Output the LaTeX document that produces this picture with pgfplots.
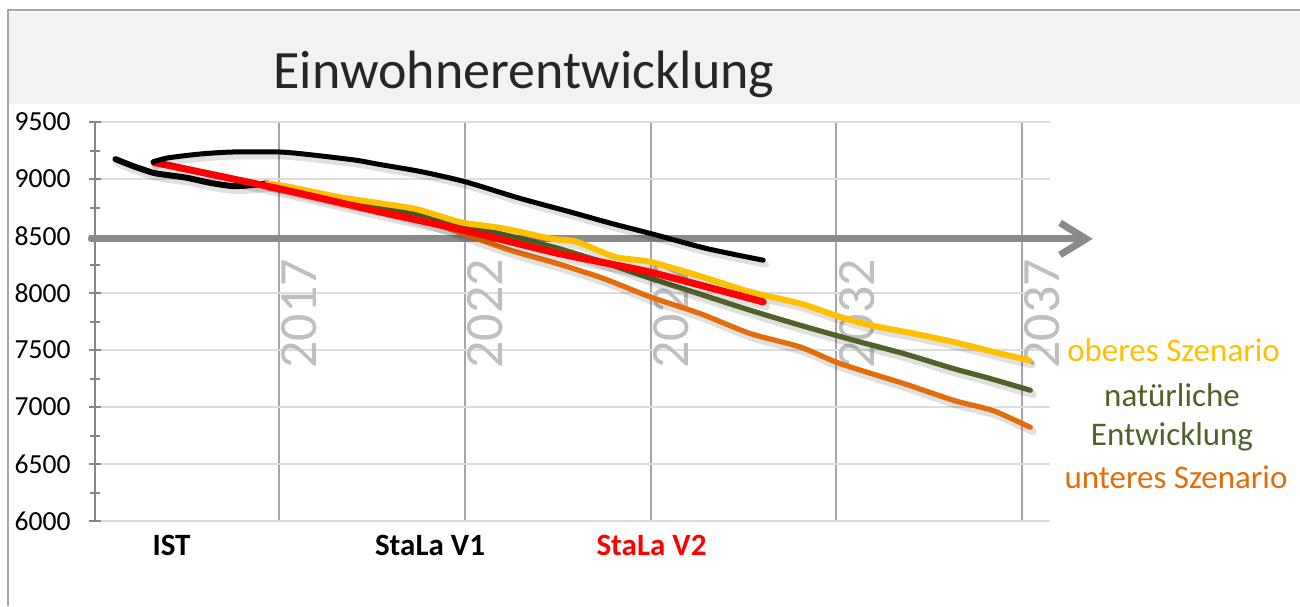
\documentclass[border=0pt]{standalone}
\usepackage{fontspec}
\setmainfont{Carlito}
\usepackage{pgfplots}
\pgfplotsset{compat=1.18}
\usetikzlibrary{arrows.meta}
\definecolor{cyel}{HTML}{FFC000}
\definecolor{cgrn}{HTML}{4F6228}
\definecolor{corg}{HTML}{E46C0A}
\definecolor{cred}{HTML}{FF0000}
\definecolor{cband}{HTML}{F2F2F2}
\definecolor{caxis}{HTML}{868686}
\definecolor{cgridh}{HTML}{DDDDDD}
\definecolor{cgridv}{HTML}{A6A6A6}
\definecolor{cyear}{HTML}{BFBFBF}
\definecolor{carrow}{HTML}{8A8A8A}
\tikzset{shadowed/.style={preaction={draw=black, draw opacity=0.12, line width=#1, transform canvas={xshift=1.2pt,yshift=-2pt}}},
  yearlab/.style={rotate=90, anchor=north west, inner sep=0pt, text=cyear, font=\fontsize{27}{32}\selectfont}}
\begin{document}
\begin{tikzpicture}
\path[use as bounding box, fill=white] (0,0) rectangle (650pt,-303pt);
\fill[cband] (4.5pt,-6pt) rectangle (650pt,-52pt);
\draw[cgridv, line width=1pt] (4pt,-303pt) -- (4pt,-5pt) -- (650pt,-5pt);
\node[font=\fontsize{27}{32}\selectfont, anchor=base, text=black!85] at (262pt,-44pt) {Einwohnerentwicklung};
\begin{axis}[
  at={(47.5pt,-260.5pt)}, anchor=south west,
  scale only axis, width=477.5pt, height=199.5pt,
  xmin=2012.05, xmax=2037.75, ymin=6000, ymax=9500,
  clip=false,
  axis y line*=left, axis x line*=bottom,
  x axis line style={draw=none},
  y axis line style={draw=caxis, line width=1pt},
  xtick={2017,2022,2027,2032,2037}, xticklabels={},
  x tick style={draw=none},
  ytick={6000,6500,...,9500}, minor y tick num=1,
  tick align=center, major tick length=6pt, minor tick length=5pt,
  y tick style={draw=caxis, line width=1pt},
  xmajorgrids, ymajorgrids,
  major x grid style={draw=cgridv, line width=1pt},
  major y grid style={draw=cgridh, line width=1pt},
  yticklabel style={font=\fontsize{13.8}{16}\selectfont, anchor=east, inner sep=0pt, xshift=-9pt},
  /pgf/number format/assume math mode=true,
  /pgf/number format/1000 sep={},
  every axis plot/.append style={line cap=round, line join=round},
]
% year labels (under the lines)
\node[yearlab] at (axis cs:2017.06,7335) {2017};
\node[yearlab] at (axis cs:2022.06,7335) {2022};
\node[yearlab] at (axis cs:2027.06,7335) {2027};
\node[yearlab] at (axis cs:2032.06,7335) {2032};
\node[yearlab] at (axis cs:2037.06,7335) {2037};
% arrow
\addplot[carrow, line width=3.5pt, sharp plot, -{Straight Barb[length=13pt,width=16pt]}] coordinates {(2011.95,8475) (2038.9,8475)};
% IST
\addplot[black, line width=3pt, smooth, tension=0.45, shadowed=4pt] coordinates {
(2012.6,9175) (2013.07,9114) (2013.61,9055) (2013.99,9035) (2014.52,9011) (2015.14,8967) (2015.76,8938) (2016.3,8947) (2016.68,8962)
};
% unteres Szenario
\addplot[corg, line width=2.6pt, smooth, tension=0.45, shadowed=4pt] coordinates {
(2016.68,8962) (2017.16,8921) (2018.37,8833) (2019.72,8736) (2020.8,8648) (2021.68,8552) (2023.22,8376) (2024.48,8259) (2025.73,8128) (2026.99,7966) (2028.33,7820) (2029.68,7645) (2031.02,7527) (2032.1,7381) (2033.81,7206) (2035.15,7059) (2035.87,7000) (2036.32,6956) (2037.22,6822)
};
% natuerliche Entwicklung
\addplot[cgrn, line width=2.6pt, smooth, tension=0.45, shadowed=4pt] coordinates {
(2016.68,8962) (2017.16,8934) (2018.37,8850) (2019.45,8771) (2020.53,8710) (2021.25,8648) (2022.14,8581) (2023.22,8499) (2024.48,8394) (2025.64,8280) (2026.99,8130) (2028.33,7990) (2029.68,7849) (2031.02,7718) (2032.46,7586) (2033.81,7469) (2035.15,7337) (2036.05,7258) (2037.22,7147)
};
% oberes Szenario
\addplot[cyel, line width=3pt, smooth, tension=0.45, shadowed=4pt] coordinates {
(2016.68,8962) (2017.16,8938) (2018.58,8844) (2019.45,8800) (2020.61,8742) (2021.25,8683) (2021.96,8616) (2023.04,8567) (2024.29,8479) (2025.01,8449) (2026.04,8317) (2026.99,8273) (2028.33,8148) (2029.68,8010) (2031.02,7908) (2032.1,7791) (2032.91,7718) (2034.07,7645) (2035.15,7571) (2036.23,7483) (2037.19,7410)
};
% StaLa V2
\addplot[cred, line width=3.5pt, smooth, tension=0.3, shadowed=4.5pt] coordinates {
(2013.64,9146) (2017,8915) (2019.72,8712) (2021.95,8552) (2024.48,8350) (2026.99,8183) (2030.03,7922)
};
% StaLa V1
\addplot[black, line width=2.5pt, smooth, tension=0.45, shadowed=3.5pt] coordinates {
(2013.61,9149) (2013.99,9184) (2014.87,9219) (2015.76,9237) (2017.03,9237) (2017.92,9210) (2019.05,9166) (2019.72,9127) (2020.82,9065) (2022.01,8976) (2023.49,8830) (2024.83,8712) (2025.94,8611) (2026.99,8523) (2028.5,8391) (2030.03,8288)
};
\end{axis}
\node[font=\bfseries\fontsize{15.5}{18}\selectfont, anchor=base] at (85.75pt,-277.5pt) {IST};
\node[font=\bfseries\fontsize{15.5}{18}\selectfont, anchor=base] at (215pt,-277.5pt) {StaLa V1};
\node[font=\bfseries\fontsize{15.5}{18}\selectfont, anchor=base, text=cred] at (325.75pt,-277.5pt) {StaLa V2};
\node[font=\fontsize{16.5}{20}\selectfont, anchor=base, text=cyel] at (586.75pt,-180.85pt) {oberes Szenario};
\node[font=\fontsize{16.5}{20}\selectfont, anchor=base, text=cgrn] at (586pt,-203.35pt) {natürliche};
\node[font=\fontsize{16.5}{20}\selectfont, anchor=base, text=cgrn] at (586pt,-222.5pt) {Entwicklung};
\node[font=\fontsize{16.5}{20}\selectfont, anchor=base, text=corg] at (588pt,-244.15pt) {unteres Szenario};
\end{tikzpicture}
\end{document}
